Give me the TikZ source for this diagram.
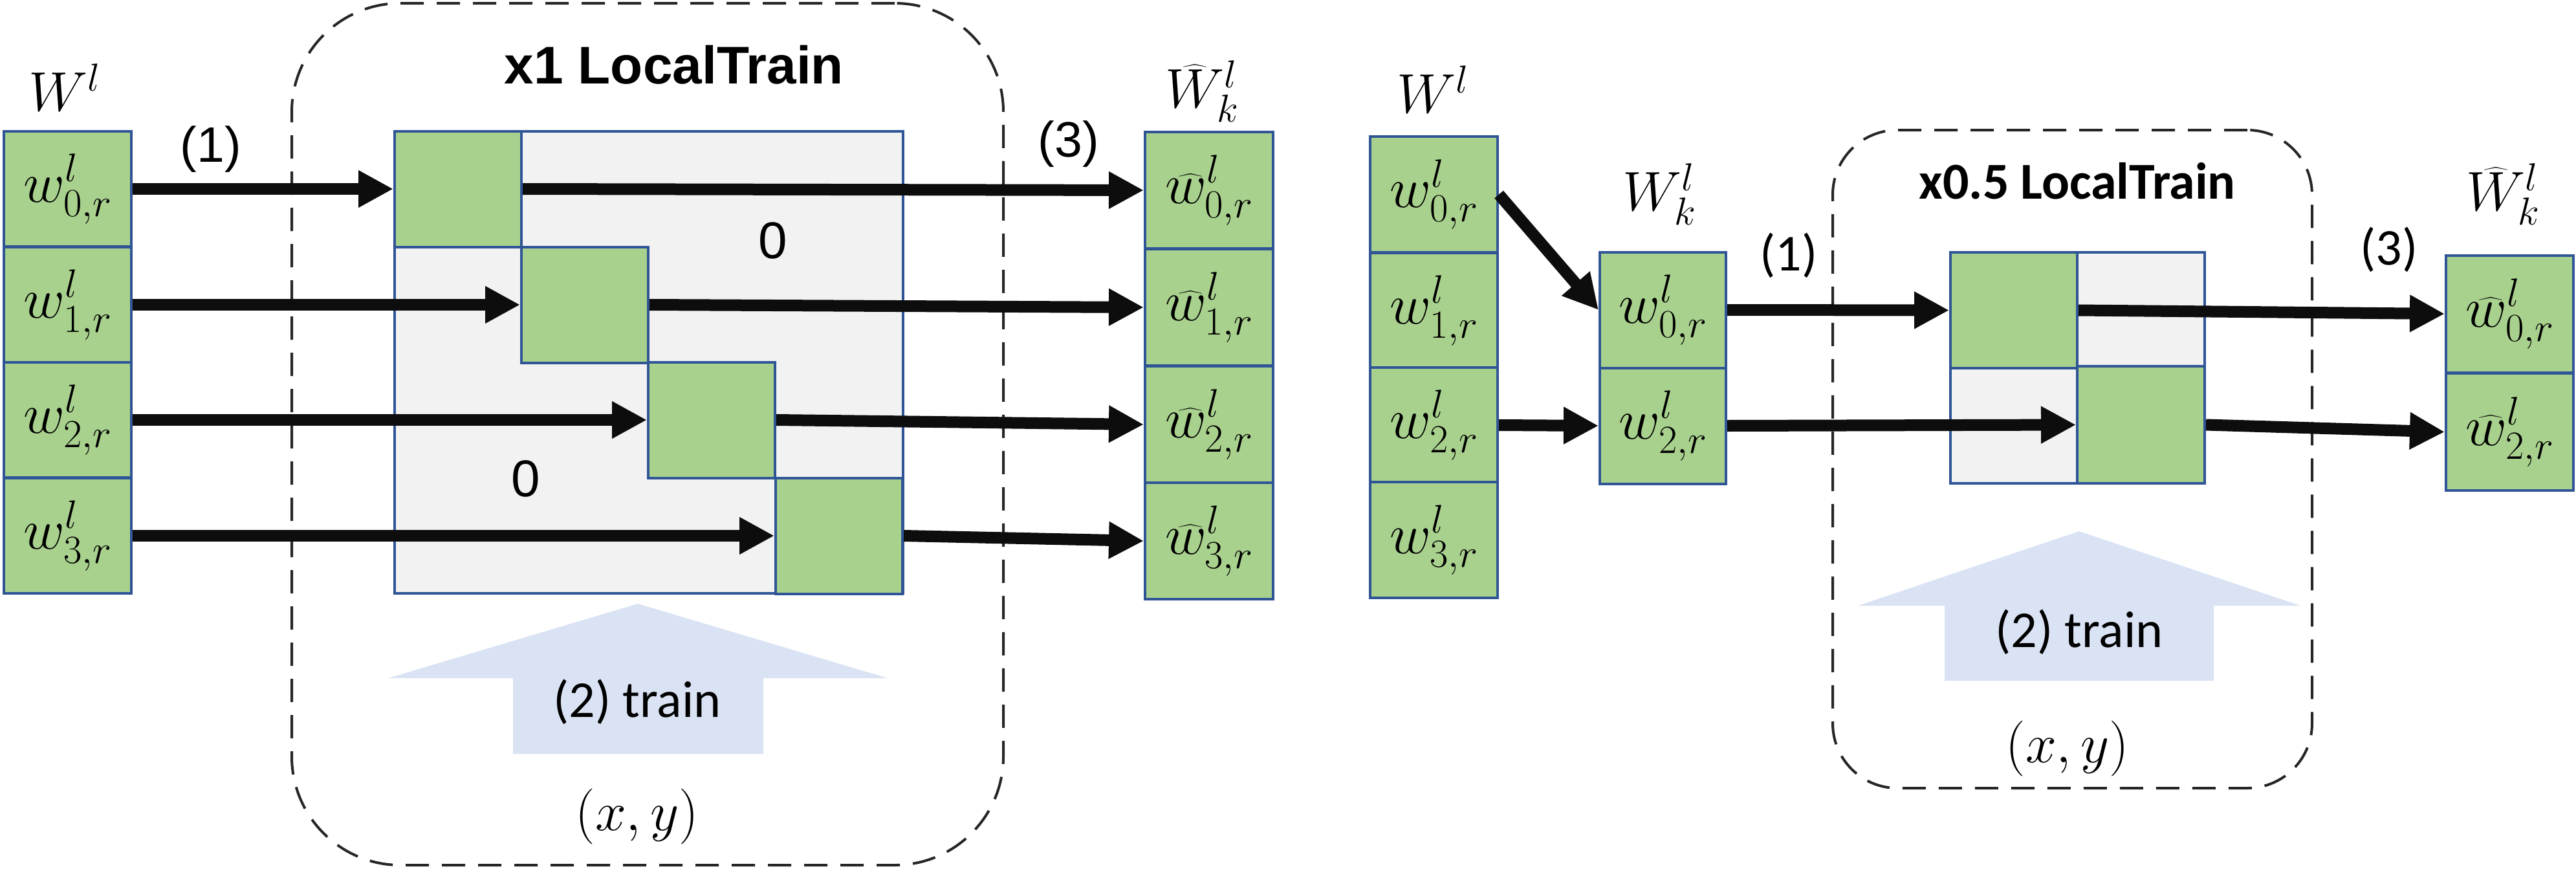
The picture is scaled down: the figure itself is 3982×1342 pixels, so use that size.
\RequirePackage{fix-cm}
\documentclass[tikz,border=0pt]{standalone}
\usepackage{amsmath}
\usepackage{fontspec}
\newfontfamily\carlito{Carlito}
\newfontfamily\arialish{Liberation Sans}
\usetikzlibrary{arrows.meta}
\definecolor{cgreen}{HTML}{A9D18E}
\definecolor{cborder}{HTML}{2F5597}
\definecolor{cgray}{HTML}{F2F2F2}
\definecolor{ctrain}{HTML}{DAE3F3}
\definecolor{cframe}{HTML}{262626}
\definecolor{carrow}{HTML}{0D0D0D}
\begin{document}
\begin{tikzpicture}[x=1pt,y=-1pt,
  cell/.style={draw=cborder, fill=cgreen, line width=4pt, inner sep=0pt,
    minimum width=197pt, minimum height=179pt, font=\fontsize{88}{100}\selectfont},
  blk/.style={draw=cborder, fill=cgreen, line width=4pt, inner sep=0pt,
    minimum width=196pt, minimum height=179pt},
  grayfill/.style={draw=cborder, fill=cgray, line width=4pt, inner sep=0pt},
  frame/.style={draw=cframe, dash pattern=on 36pt off 20pt, line width=4pt, inner sep=0pt},
  arr/.style={draw=carrow, line width=18pt, -{Triangle[length=54pt,width=54pt]}},
  trainarrow/.style={fill=ctrain, draw=none},
  hdr/.style={inner sep=0pt, font=\fontsize{86}{100}\selectfont},
  numA/.style={inner sep=0pt, font=\arialish\fontsize{77}{92}\selectfont},
  numC/.style={inner sep=0pt, font=\carlito\fontsize{80}{96}\selectfont},
  zero/.style={inner sep=0pt, font=\arialish\fontsize{80}{96}\selectfont},
  ttl/.style={inner sep=0pt, font=\arialish\bfseries\fontsize{82}{98}\selectfont},
  ttlb/.style={inner sep=0pt, font=\carlito\bfseries\fontsize{80}{96}\selectfont},
  trn/.style={inner sep=0pt, font=\carlito\fontsize{80}{96}\selectfont},
  xy/.style={inner sep=0pt, font=\fontsize{86}{100}\selectfont}
]
\useasboundingbox (0,0) rectangle (3982,1342);

% ---------------- frames ----------------
\node[frame, rounded corners=168pt, minimum width=1100pt, minimum height=1332pt] (f1) at (1001,671) {};
\node[frame, rounded corners=100pt, minimum width=741pt, minimum height=1017pt] (f2) at (3203.5,709.5) {};

% ---------------- train arrows ----------------
\path[trainarrow] (600,1048) -- (986,933) -- (1372,1048) -- (1180,1048) -- (1180,1165) -- (793,1165) -- (793,1048) -- cycle;
\path[trainarrow] (2872,936) -- (3214,821) -- (3556,936) -- (3422,936) -- (3422,1052) -- (3006,1052) -- (3006,936) -- cycle;
\node[trn] (t1) at (985,1085) {(2) train};
\node[trn] (t2) at (3214,977) {(2) train};
\node[xy] (xy1) at (985,1262) {$(x,y)$};
\node[xy] (xy2) at (3196,1157) {$(x,y)$};

% ---------------- left group ----------------
\node[grayfill, minimum width=786pt, minimum height=714pt] (m1) at (1003,560) {};
\node[blk] (b0) at (708,292) {};
\node[blk] (b1) at (904,471) {};
\node[blk] (b2) at (1100,649) {};
\node[blk] (b3) at (1297,828) {};

\node[cell, minimum height=178.5pt] (a0) at (104.5,292) {$w^l_{0,r}$};
\node[cell, minimum height=178.5pt] (a1) at (104.5,471) {$w^l_{1,r}$};
\node[cell, minimum height=178.5pt] (a2) at (104.5,649) {$w^l_{2,r}$};
\node[cell, minimum height=178.5pt] (a3) at (104.5,828) {$w^l_{3,r}$};

\node[cell, minimum width=198pt, minimum height=180pt] (h0) at (1869,294) {$\widehat{w}^l_{0,r}$};
\node[cell, minimum width=198pt, minimum height=180pt] (h1) at (1869,475) {$\widehat{w}^l_{1,r}$};
\node[cell, minimum width=198pt, minimum height=180pt] (h2) at (1869,656) {$\widehat{w}^l_{2,r}$};
\node[cell, minimum width=198pt, minimum height=180pt] (h3) at (1869,836) {$\widehat{w}^l_{3,r}$};

\draw[arr] (a0.east) -- (b0.west);
\draw[arr] (a1.east) -- (b1.west);
\draw[arr] (a2.east) -- (b2.west);
\draw[arr] (a3.east) -- (b3.west);
\draw[arr] (b0.east) -- (h0.west);
\draw[arr] (b1.east) -- (h1.west);
\draw[arr] (b2.east) -- (h2.west);
\draw[arr] (b3.east) -- (h3.west);

\node[hdr] (lW1) at (100,135) {$W^l$};
\node[hdr] (lH1) at (1858,141) {$\widehat{W}^l_k$};
\node[numA] (n11) at (326,231) {(1)};
\node[numA] (n31) at (1652,223) {(3)};
\node[ttl] (ttl1) at (1042,100) {x1 LocalTrain};
\node[zero] (z1) at (1195,372) {0};
\node[zero] (z2) at (813,740) {0};

% ---------------- right group ----------------
\node[grayfill, minimum width=393pt, minimum height=357pt] (m2) at (3211.5,568.5) {};
\node[blk] (rb0) at (3113,479.5) {};
\node[blk, minimum width=197pt, minimum height=181pt] (rb1) at (3309.5,656.5) {};

\node[cell, minimum height=178.5pt] (c0) at (2216.5,300.5) {$w^l_{0,r}$};
\node[cell, minimum height=178.5pt] (c1) at (2216.5,480) {$w^l_{1,r}$};
\node[cell, minimum height=178.5pt] (c2) at (2216.5,657) {$w^l_{2,r}$};
\node[cell, minimum height=178.5pt] (c3) at (2216.5,834.5) {$w^l_{3,r}$};

\node[cell, minimum width=195pt] (k0) at (2570.5,479) {$w^l_{0,r}$};
\node[cell, minimum width=195pt] (k1) at (2570.5,658) {$w^l_{2,r}$};

\node[cell, minimum height=181pt] (g0) at (3879.5,485) {$\widehat{w}^l_{0,r}$};
\node[cell, minimum height=181pt] (g1) at (3879.5,667.5) {$\widehat{w}^l_{2,r}$};

\draw[arr] (c0.east) -- (k0.west);
\draw[arr] (c2.east) -- (k1.west);
\draw[arr] (k0.east) -- (rb0.west);
\draw[arr] (k1.east) -- (rb1.west);
\draw[arr] (rb0.east) -- (g0.west);
\draw[arr] (rb1.east) -- (g1.west);

\node[hdr] (lW2) at (2215,138) {$W^l$};
\node[hdr] (lK2) at (2565,300) {$W^l_k$};
\node[hdr] (lH2) at (3869,300) {$\widehat{W}^l_k$};
\node[numC] (n12) at (2765,395) {(1)};
\node[numC] (n32) at (3693,386) {(3)};
\node[ttlb] (ttl2) at (3211,280) {x0.5 LocalTrain};
\end{tikzpicture}
\end{document}
